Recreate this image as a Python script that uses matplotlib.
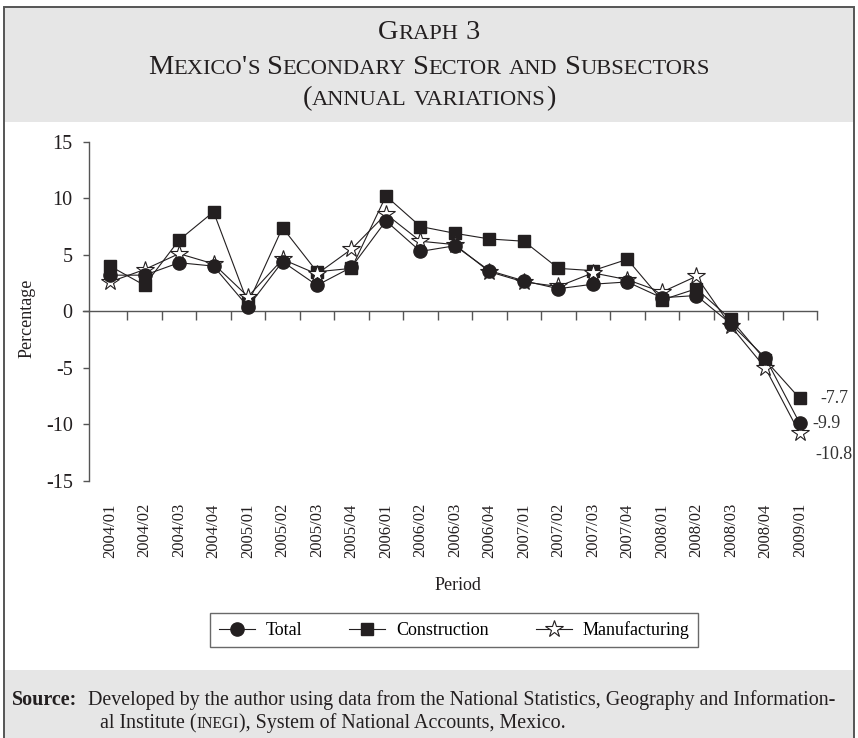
import matplotlib
matplotlib.use("Agg")
import matplotlib.pyplot as plt
from matplotlib.patches import Rectangle
from matplotlib.lines import Line2D

SERIF = ["Liberation Serif", "DejaVu Serif"]
plt.rcParams["font.family"] = SERIF

# Quarterly periods
periods = ["2004/01", "2004/02", "2004/03", "2004/04",
           "2005/01", "2005/02", "2005/03", "2005/04",
           "2006/01", "2006/02", "2006/03", "2006/04",
           "2007/01", "2007/02", "2007/03", "2007/04",
           "2008/01", "2008/02", "2008/03", "2008/04",
           "2009/01"]

# Annual variations, percent
total = [3.2, 3.2, 4.3, 4.0, 0.4, 4.4, 2.3, 3.9, 8.0, 5.3, 5.8,
         3.6, 2.7, 2.0, 2.4, 2.6, 1.2, 1.4, -1.1, -4.1, -9.9]
construction = [4.0, 2.3, 6.3, 8.8, 0.7, 7.4, 3.5, 3.8, 10.2, 7.5, 6.9,
                6.4, 6.2, 3.8, 3.6, 4.6, 1.0, 2.0, -0.7, -4.3, -7.7]
manufacturing = [2.6, 3.7, 5.1, 4.2, 1.3, 4.6, 3.3, 5.5, 8.6, 6.2, 5.9,
                 3.5, 2.6, 2.2, 3.4, 2.8, 1.7, 3.1, -1.3, -5.0, -10.8]

yticks = [-15, -10, -5, 0, 5, 10, 15]

W, H = 858, 738
fig = plt.figure(figsize=(W / 100, H / 100), dpi=100)
fig.patch.set_facecolor("white")

GREY = "#e6e6e6"
INK = "#231f20"


def fx(px):
    return px / W


def fy(py):
    return 1 - py / H


# Title band, source band and outer frame
fig.add_artist(Rectangle((fx(4), fy(122)), fx(850), 115 / H,
                         transform=fig.transFigure, facecolor=GREY,
                         edgecolor="none", zorder=0))
fig.add_artist(Rectangle((fx(4), fy(745)), fx(850), 75 / H,
                         transform=fig.transFigure, facecolor=GREY,
                         edgecolor="none", zorder=0))
fig.add_artist(Rectangle((fx(4), fy(745)), fx(850), 738 / H,
                         transform=fig.transFigure, facecolor="none",
                         edgecolor="#555555", lw=1.4, zorder=5))

renderer = fig.canvas.get_renderer()


def text_width(s, size):
    a = fig.text(0, 0, "|" + s + "|", fontsize=size)
    b = fig.text(0, 0, "||", fontsize=size)
    w = a.get_window_extent(renderer).width - b.get_window_extent(renderer).width
    a.remove()
    b.remove()
    return w


def small_caps(s, x_px, base_px, big, small, align="center", color=INK):
    """Draw s with lowercase letters set as reduced capitals."""
    runs = []
    for ch in s:
        low = ch.islower()
        if runs and runs[-1][1] == low:
            runs[-1][0] += ch
        else:
            runs.append([ch, low])
    pieces = [(r.upper() if low else r, small if low else big) for r, low in runs]
    widths = [text_width(t, sz) for t, sz in pieces]
    x = x_px - sum(widths) / 2 if align == "center" else x_px
    for (t, sz), w in zip(pieces, widths):
        fig.text(fx(x), fy(base_px), t, fontsize=sz, ha="left",
                 va="baseline", color=color)
        x += w


small_caps("Graph 3", 429, 39, 20.5, 16.2)
small_caps("Mexico's Secondary Sector and Subsectors", 429, 74, 20.5, 16.2)
small_caps("(annual variations)", 429, 105, 20.5, 16.2)

# Plot area
x0, x1 = 82.5, 817
y0, y1 = 481, 141.7
ax = fig.add_axes([fx(x0), fy(y0), (x1 - x0) / W, (y0 - y1) / H])
ax.set_facecolor("none")

idx = list(range(len(periods)))
ax.plot(idx, construction, color=INK, lw=0.8, marker="s", ms=8,
        mfc=INK, mec=INK, zorder=3)
ax.plot(idx, manufacturing, color=INK, lw=0.8, marker="*", ms=13,
        mfc="white", mec=INK, mew=0.8, zorder=4)
ax.plot(idx, total, color=INK, lw=0.8, marker="o", ms=9.5,
        mfc=INK, mec=INK, zorder=5)

ax.set_xlim(-0.8, 20.5)
ax.set_ylim(-15, 15)

for s in ("top", "right"):
    ax.spines[s].set_visible(False)
ax.spines["bottom"].set_position(("data", 0))
ax.spines["left"].set_position(("data", -0.6))
for s in ("bottom", "left"):
    ax.spines[s].set_color("#555555")
    ax.spines[s].set_linewidth(1.0)

ax.set_yticks(yticks)
ax.set_yticklabels([str(v) for v in yticks])
ax.tick_params(axis="y", direction="out", length=4, width=1.0,
               color="#555555", labelsize=14.5, labelcolor=INK, pad=8)

ax.set_xticks([i + 0.5 for i in idx])
ax.tick_params(axis="x", direction="out", length=6.5, width=1.0,
               color="#555555", labelbottom=False)

sec = ax.secondary_xaxis("bottom")
sec.set_xticks(idx)
sec.set_xticklabels(periods, rotation=90, fontsize=12, color=INK)
sec.tick_params(length=0, pad=16)
sec.spines["bottom"].set_visible(False)

# End-of-series values
ends = [(construction[-1], 15, 0), (total[-1], 9, 0), (manufacturing[-1], 11, -15)]
for v, dx, dy in ends:
    ax.annotate(f"{v:.1f}", (idx[-1], v), xytext=(dx, dy),
                textcoords="offset points", ha="left", va="center",
                fontsize=13, color="#333333", annotation_clip=False)

fig.text(fx(27), fy(318), "Percentage", rotation=90, ha="center",
         va="center", fontsize=13, color=INK)
fig.text(fx(458), fy(585), "Period", ha="center", va="center",
         fontsize=13, color=INK)

handles = [
    Line2D([], [], color=INK, lw=0.8, marker="o", ms=9.5, mfc=INK, mec=INK),
    Line2D([], [], color=INK, lw=0.8, marker="s", ms=8, mfc=INK, mec=INK),
    Line2D([], [], color=INK, lw=0.8, marker="*", ms=13, mfc="white",
           mec=INK, mew=0.8),
]
leg = fig.legend(handles, ["Total", "Construction", "Manufacturing"],
                 loc="center", bbox_to_anchor=(fx(454), fy(630)), ncol=3,
                 frameon=True, fancybox=False, fontsize=13,
                 handlelength=2.0, columnspacing=2.6, handletextpad=0.6,
                 borderpad=0.45)
leg.get_frame().set_edgecolor("#444444")
leg.get_frame().set_linewidth(1.0)

# Source note
SRC = 14.4
fig.text(fx(12), fy(705), "Source:", fontsize=14.5, fontweight="bold",
         ha="left", va="baseline", color=INK)
fig.text(fx(88), fy(705),
         "Developed by the author using data from the National Statistics, "
         "Geography and Information-",
         fontsize=SRC, ha="left", va="baseline", color=INK)
part1 = "al Institute ("
part3 = "), System of National Accounts, Mexico."
fig.text(fx(100), fy(728), part1, fontsize=SRC, ha="left",
         va="baseline", color=INK)
w1 = text_width(part1, SRC)
fig.text(fx(100 + w1), fy(728), "INEGI", fontsize=11.2, ha="left",
         va="baseline", color=INK)
w2 = text_width("INEGI", 11.2)
fig.text(fx(100 + w1 + w2), fy(728), part3, fontsize=SRC, ha="left",
         va="baseline", color=INK)

fig.savefig("out.png", dpi=100)
